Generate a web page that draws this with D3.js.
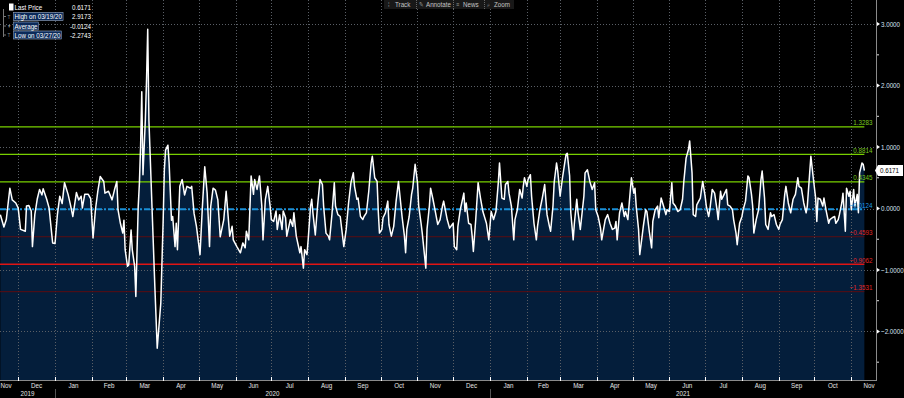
<!DOCTYPE html>
<html><head><meta charset="utf-8">
<script src="https://cdn.jsdelivr.net/npm/d3@7"></script>
<style>
html,body{margin:0;padding:0;background:#000;overflow:hidden}
svg{display:block}
text{font-family:"Liberation Sans Narrow","Arial Narrow","Liberation Sans",Arial,sans-serif}
</style></head><body>
<svg id="c" width="904" height="398"></svg>
<script>
// ---------------- data ----------------
const lastPrice = [
["2019-11-16",-0.10],["2019-11-19",-0.30],["2019-11-21",-0.18],["2019-11-24",0.33],["2019-11-26",0.14],["2019-11-29",0.09],
["2019-12-01",0.01],["2019-12-03",-0.34],["2019-12-07",-0.37],["2019-12-08",0.04],["2019-12-10",0.05],["2019-12-12",-0.04],
["2019-12-13",-0.62],["2019-12-15",-0.10],["2019-12-17",0.15],["2019-12-19",0.31],["2019-12-21",0.22],["2019-12-22",0.32],
["2019-12-25",0.15],["2019-12-27",0.01],["2019-12-30",-0.56],
["2020-01-01",-0.57],["2020-01-03",-0.10],["2020-01-05",0.20],["2020-01-07",0.08],["2020-01-09",0.42],["2020-01-12",0.23],
["2020-01-14",0.06],["2020-01-16",-0.13],["2020-01-19",0.26],["2020-01-21",0.14],["2020-01-23",0.20],["2020-01-24",0.01],
["2020-01-26",0.23],["2020-01-29",0.23],["2020-01-31",0.16],["2020-02-02",-0.48],["2020-02-04",-0.02],["2020-02-06",0.28],
["2020-02-08",0.52],["2020-02-11",0.44],["2020-02-12",0.25],["2020-02-15",0.28],["2020-02-18",0.14],["2020-02-20",0.30],
["2020-02-22",0.44],["2020-02-23",-0.02],["2020-02-25",-0.24],["2020-02-27",-0.40],["2020-02-28",-0.19],["2020-02-29",-0.67],
["2020-03-02",-0.94],["2020-03-03",-0.92],["2020-03-05",-0.35],["2020-03-06",-0.67],["2020-03-08",-0.94],["2020-03-09",-1.43],
["2020-03-11",0.03],["2020-03-12",0.41],["2020-03-13",1.01],["2020-03-14",1.90],["2020-03-15",0.55],["2020-03-17",1.44],
["2020-03-18",2.09],["2020-03-19",2.9173],["2020-03-20",1.44],["2020-03-21",0.90],["2020-03-23",-0.19],["2020-03-25",-1.27],
["2020-03-27",-2.2743],["2020-03-30",-1.54],["2020-04-01",-0.19],["2020-04-02",0.63],["2020-04-03",0.95],["2020-04-05",1.03],
["2020-04-06",0.74],["2020-04-08",-0.19],["2020-04-09",-0.13],["2020-04-11",-0.62],["2020-04-12",-0.24],["2020-04-13",-0.67],
["2020-04-15",0.36],["2020-04-17",0.47],["2020-04-19",0.22],["2020-04-21",0.36],["2020-04-24",0.33],["2020-04-25",0.36],
["2020-04-27",-0.08],["2020-04-29",-0.29],["2020-05-02",-0.75],["2020-05-04",0.03],["2020-05-06",0.68],["2020-05-08",0.25],
["2020-05-10",-0.62],["2020-05-11",0.03],["2020-05-13",0.33],["2020-05-15",0.30],["2020-05-17",0.14],["2020-05-19",-0.46],
["2020-05-22",-0.18],["2020-05-24",0.28],["2020-05-27",-0.45],["2020-05-29",-0.29],["2020-05-30",-0.51],["2020-06-02",-0.62],
["2020-06-05",-0.72],["2020-06-07",-0.56],["2020-06-09",-0.64],["2020-06-10",-0.37],["2020-06-12",-0.51],["2020-06-14",0.53],
["2020-06-16",0.23],["2020-06-17",0.47],["2020-06-19",0.31],["2020-06-21",0.53],["2020-06-23",0.04],["2020-06-24",-0.51],
["2020-06-26",0.15],["2020-06-28",0.36],["2020-06-30",0.04],["2020-07-01",-0.18],["2020-07-03",-0.21],["2020-07-05",-0.04],
["2020-07-06",-0.34],["2020-07-08",-0.10],["2020-07-10",-0.34],["2020-07-11",-0.04],["2020-07-13",-0.15],["2020-07-14",-0.45],
["2020-07-17",-0.18],["2020-07-19",-0.29],["2020-07-20",-0.07],["2020-07-22",-0.45],["2020-07-25",-0.72],["2020-07-26",-0.62],
["2020-07-28",-0.97],["2020-07-29",-0.67],["2020-07-31",-0.75],["2020-08-01",-0.51],["2020-08-03",0.04],["2020-08-04",0.15],
["2020-08-05",-0.07],["2020-08-07",-0.43],["2020-08-09",0.06],["2020-08-11",0.47],["2020-08-13",0.39],["2020-08-14",0.04],
["2020-08-16",-0.40],["2020-08-18",-0.45],["2020-08-19",-0.51],["2020-08-21",-0.10],["2020-08-23",0.42],["2020-08-24",0.04],
["2020-08-26",-0.10],["2020-08-28",-0.13],["2020-08-31",-0.62],["2020-09-02",-0.34],["2020-09-04",0.09],["2020-09-06",0.42],
["2020-09-08",0.58],["2020-09-09",0.36],["2020-09-11",0.15],["2020-09-12",0.17],["2020-09-14",-0.13],["2020-09-16",-0.18],
["2020-09-17",-0.13],["2020-09-19",-0.07],["2020-09-21",0.28],["2020-09-23",0.74],["2020-09-24",0.85],["2020-09-26",0.50],
["2020-09-28",0.44],["2020-09-29",-0.05],["2020-09-30",-0.40],["2020-10-02",-0.34],["2020-10-03",-0.15],["2020-10-05",-0.07],
["2020-10-07",0.12],["2020-10-08",-0.26],["2020-10-10",-0.45],["2020-10-12",-0.29],["2020-10-14",0.12],["2020-10-16",0.44],
["2020-10-19",-0.13],["2020-10-21",-0.45],["2020-10-22",-0.72],["2020-10-23",-0.34],["2020-10-25",-0.13],["2020-10-27",0.23],
["2020-10-28",0.33],["2020-10-30",0.72],["2020-11-01",0.42],["2020-11-02",0.04],["2020-11-04",-0.24],["2020-11-05",-0.40],
["2020-11-08",-0.97],["2020-11-09",-0.34],["2020-11-11",0.04],["2020-11-12",0.33],["2020-11-14",0.15],["2020-11-16",-0.05],
["2020-11-18",-0.26],["2020-11-20",-0.18],["2020-11-22",0.04],["2020-11-23",0.12],["2020-11-26",-0.18],["2020-11-28",-0.32],
["2020-12-01",-0.24],["2020-12-02",-0.62],["2020-12-04",-0.67],["2020-12-05",-0.29],["2020-12-07",-0.02],["2020-12-10",0.25],
["2020-12-11",-0.05],["2020-12-12",0.09],["2020-12-14",-0.24],["2020-12-16",-0.26],["2020-12-17",-0.45],["2020-12-18",-0.70],
["2020-12-20",-0.18],["2020-12-22",0.42],["2020-12-24",0.17],["2020-12-26",-0.05],["2020-12-29",-0.24],["2020-12-31",-0.51],
["2021-01-02",-0.05],["2021-01-04",-0.18],["2021-01-06",-0.05],["2021-01-08",0.42],["2021-01-09",0.74],["2021-01-11",0.17],
["2021-01-13",0.15],["2021-01-14",0.39],["2021-01-16",0.44],["2021-01-17",0.25],["2021-01-19",0.04],["2021-01-21",-0.51],
["2021-01-22",-0.18],["2021-01-24",-0.02],["2021-01-26",0.31],["2021-01-28",0.17],["2021-01-29",0.36],["2021-01-30",0.50],
["2021-02-01",0.36],["2021-02-02",0.47],["2021-02-04",0.55],["2021-02-05",0.20],["2021-02-07",-0.24],["2021-02-09",-0.51],
["2021-02-10",-0.29],["2021-02-12",-0.02],["2021-02-14",0.17],["2021-02-16",0.39],["2021-02-18",-0.10],["2021-02-20",-0.29],
["2021-02-21",-0.37],["2021-02-23",0.04],["2021-02-24",0.42],["2021-02-26",0.74],["2021-02-27",0.61],["2021-03-01",0.20],
["2021-03-03",0.50],["2021-03-04",0.63],["2021-03-06",0.88],["2021-03-07",0.90],["2021-03-09",0.53],["2021-03-10",-0.07],
["2021-03-12",-0.51],["2021-03-13",-0.24],["2021-03-15",0.15],["2021-03-16",-0.05],["2021-03-18",-0.34],["2021-03-21",0.20],
["2021-03-22",0.58],["2021-03-24",0.63],["2021-03-26",0.44],["2021-03-28",0.31],["2021-03-30",0.42],["2021-03-31",-0.02],
["2021-04-02",-0.13],["2021-04-04",-0.32],["2021-04-05",-0.51],["2021-04-06",-0.40],["2021-04-08",-0.18],["2021-04-10",-0.10],
["2021-04-12",-0.24],["2021-04-14",-0.34],["2021-04-16",-0.32],["2021-04-17",-0.21],["2021-04-18",-0.51],["2021-04-20",-0.07],
["2021-04-22",0.09],["2021-04-24",-0.13],["2021-04-25",-0.05],["2021-04-27",-0.18],["2021-04-29",0.28],["2021-04-30",0.50],
["2021-05-02",0.25],["2021-05-03",0.33],["2021-05-04",0.04],["2021-05-06",-0.34],["2021-05-07",-0.75],["2021-05-09",-0.45],
["2021-05-10",-0.29],["2021-05-12",-0.02],["2021-05-13",-0.05],["2021-05-15",-0.37],["2021-05-17",-0.64],["2021-05-18",-0.21],
["2021-05-20",-0.02],["2021-05-22",0.04],["2021-05-23",-0.15],["2021-05-25",0.17],["2021-05-27",0.04],["2021-05-29",-0.10],
["2021-05-30",-0.02],["2021-06-01",-0.05],["2021-06-03",0.42],["2021-06-04",0.09],["2021-06-06",0.04],["2021-06-08",-0.05],
["2021-06-10",-0.02],["2021-06-12",0.15],["2021-06-13",0.42],["2021-06-15",0.82],["2021-06-17",0.96],["2021-06-18",1.10],
["2021-06-20",0.58],["2021-06-21",-0.10],["2021-06-23",-0.13],["2021-06-24",0.06],["2021-06-27",0.17],["2021-06-28",0.31],
["2021-06-29",0.44],["2021-07-01",0.20],["2021-07-02",0.04],["2021-07-04",-0.13],["2021-07-05",-0.02],["2021-07-07",0.31],
["2021-07-09",0.25],["2021-07-11",-0.02],["2021-07-12",-0.18],["2021-07-14",0.28],["2021-07-15",0.15],["2021-07-17",0.23],
["2021-07-19",0.31],["2021-07-20",0.06],["2021-07-22",0.04],["2021-07-24",-0.02],["2021-07-25",-0.18],["2021-07-27",-0.40],
["2021-07-28",-0.59],["2021-07-30",-0.24],["2021-08-01",-0.13],["2021-08-02",-0.02],["2021-08-04",0.12],["2021-08-06",0.53],
["2021-08-07",0.50],["2021-08-09",0.23],["2021-08-10",0.04],["2021-08-11",-0.40],["2021-08-13",-0.18],["2021-08-15",-0.02],
["2021-08-17",0.47],["2021-08-18",0.61],["2021-08-20",0.17],["2021-08-21",-0.26],["2021-08-23",-0.34],["2021-08-25",-0.07],
["2021-08-26",-0.13],["2021-08-28",-0.10],["2021-08-30",-0.26],["2021-09-01",-0.34],["2021-09-02",-0.26],["2021-09-04",-0.18],
["2021-09-06",0.23],["2021-09-07",0.36],["2021-09-09",0.09],["2021-09-11",-0.07],["2021-09-13",0.15],["2021-09-15",0.23],
["2021-09-17",0.50],["2021-09-18",0.36],["2021-09-20",0.33],["2021-09-22",0.09],["2021-09-24",-0.07],["2021-09-25",0.04],
["2021-09-27",0.58],["2021-09-28",0.85],["2021-09-30",0.50],["2021-10-02",0.17],["2021-10-03",-0.21],["2021-10-04",0.17],
["2021-10-06",0.15],["2021-10-08",0.04],["2021-10-09",0.17],["2021-10-11",-0.05],["2021-10-13",-0.24],["2021-10-14",-0.18],
["2021-10-16",-0.15],["2021-10-18",-0.13],["2021-10-19",-0.24],["2021-10-21",-0.18],["2021-10-22",-0.10],["2021-10-24",0.09],
["2021-10-25",0.25],["2021-10-27",-0.37],["2021-10-28",0.33],["2021-10-30",0.20],["2021-10-31",0.28],["2021-11-01",-0.02],
["2021-11-03",0.31],["2021-11-04",0.04],["2021-11-06",0.23],["2021-11-07",-0.07],["2021-11-08",0.58],["2021-11-10",0.74],
["2021-11-11",0.72],["2021-11-12",0.6171]
];
const bandValues = [1.3283, 0.8814, 0.4345, -0.0124, -0.4593, -0.9062, -1.3531];
const bandKinds  = ["up3","up2","up1","mean","dn1","dn2","dn3"];
const yTickValues = [3, 2, 1, 0, -1, -2];
const legendLabels = ["Last Price", "High on 03/19/20", "Average", "Low on 03/27/20"];
const legendValues = ["0.6171", "2.9173", "-0.0124", "-2.2743"];
const toolbarItems = ["Track", "Annotate", "News", "Zoom"];
const lastValueLabel = "0.6171";

// ---------------- layout ----------------
const W = 904, H = 398;
const plotRight = 876, plotBottom = 380;
const K = 0.78; // horizontal condensing of the narrow terminal font
const svg = d3.select("#c");
const parse = d3.utcParse("%Y-%m-%d");
const data = lastPrice.map(([d, v]) => ({date: parse(d), value: v}));

const x = d3.scaleUtc()
  .domain([new Date(Date.UTC(2019, 10, 15, 17)), new Date(Date.UTC(2021, 10, 21, 19))])
  .range([0, plotRight]);
const y = d3.scaleLinear().domain([-2.79, 3.392]).range([plotBottom, 0]);

// condensed text helper
function ctext(parent, tx, ty, str, o = {}) {
  const g = parent.append("g").attr("transform", `translate(${tx},${ty}) scale(${K},1)`);
  const t = g.append("text").attr("dy", "0.35em")
    .attr("font-size", o.size || 8)
    .attr("fill", o.fill || "#fff")
    .attr("text-anchor", o.anchor || "start")
    .text(str);
  return t;
}

svg.append("rect").attr("width", W).attr("height", H).attr("fill", "#000");

svg.append("clipPath").attr("id", "pc").append("rect")
  .attr("x", 0).attr("y", 0).attr("width", plotRight).attr("height", plotBottom);
const plot = svg.append("g").attr("clip-path", "url(#pc)");

// area under line
plot.append("path").datum(data)
  .attr("fill", "#041e3b")
  .attr("d", d3.area().x(d => x(d.date)).y0(plotBottom).y1(d => y(d.value)));

// grid
const months = d3.utcMonth.range(x.domain()[0], x.domain()[1]);
plot.append("g").selectAll("line").data(months).join("line")
  .attr("x1", d => Math.round(x(d)) + 0.5).attr("x2", d => Math.round(x(d)) + 0.5)
  .attr("y1", 0).attr("y2", plotBottom)
  .attr("stroke", "#5a5f66").attr("stroke-width", 1).attr("stroke-dasharray", "1,2");
plot.append("g").selectAll("line").data(yTickValues).join("line")
  .attr("x1", 0).attr("x2", plotRight)
  .attr("y1", d => Math.round(y(d)) + 0.5).attr("y2", d => Math.round(y(d)) + 0.5)
  .attr("stroke", "#5a5f66").attr("stroke-width", 1).attr("stroke-dasharray", "1,2");

// bands
const bandStyle = {
  up3: {c: "#78d000", w: 1.2, lab: "#78c81e"},
  up2: {c: "#78d000", w: 1.2, lab: "#78c81e"},
  up1: {c: "#78d000", w: 1.2, lab: "#78c81e"},
  mean: {c: "#1a90d8", w: 2, dash: "6,2,2,2", lab: "#1e9ae6"},
  dn1: {c: "#5c0c10", w: 1, lab: "#e02828"},
  dn2: {c: "#e01414", w: 1.5, lab: "#e02828"},
  dn3: {c: "#5c0c10", w: 1, lab: "#e02828"}
};
const xEnd = x(data[data.length - 1].date);
const bands = bandValues.map((v, i) => ({v, k: bandKinds[i]}));
plot.append("g").selectAll("line").data(bands).join("line")
  .attr("x1", 0).attr("x2", xEnd)
  .attr("y1", d => y(d.v)).attr("y2", d => y(d.v))
  .attr("stroke", d => bandStyle[d.k].c)
  .attr("stroke-width", d => bandStyle[d.k].w)
  .attr("stroke-dasharray", d => bandStyle[d.k].dash || null);

// price line
plot.append("path").datum(data)
  .attr("fill", "none").attr("stroke", "#fff").attr("stroke-width", 1.5)
  .attr("stroke-linejoin", "round")
  .attr("d", d3.line().x(d => x(d.date)).y(d => y(d.value)));

// band labels
const bandLab = svg.append("g");
bands.forEach(b => ctext(bandLab, xEnd + 8, y(b.v) - 4.5, d3.format(".4f")(b.v),
  {anchor: "end", fill: bandStyle[b.k].lab}));

// right axis
svg.append("line").attr("x1", plotRight + 0.5).attr("x2", plotRight + 0.5)
  .attr("y1", 0).attr("y2", plotBottom + 1).attr("stroke", "#8a8a8a");
const minor = d3.range(-2.5, 3.5, 1);
svg.append("g").selectAll("line").data(minor).join("line")
  .attr("x1", plotRight + 1).attr("x2", plotRight + 3)
  .attr("y1", d => y(d)).attr("y2", d => y(d)).attr("stroke", "#ddd");
const yAxisG = svg.append("g");
yTickValues.forEach(v => {
  yAxisG.append("path").attr("transform", `translate(${plotRight},${y(v)})`)
    .attr("d", "M1,-2L4,0L1,2Z").attr("fill", "#fff");
  ctext(yAxisG, plotRight + 5, y(v), d3.format(".4f")(v), {fill: "#d6e2f2"});
});

// last price tag
const ly = y(data[data.length - 1].value);
svg.append("path")
  .attr("d", `M${plotRight - 1},${ly} L${plotRight + 2},${ly - 5.5} L${W - 1},${ly - 5.5} L${W - 1},${ly + 5.5} L${plotRight + 2},${ly + 5.5} Z`)
  .attr("fill", "#fff");
ctext(svg, plotRight + 4, ly, lastValueLabel, {fill: "#000"});

// bottom axis
svg.append("line").attr("x1", 0).attr("x2", plotRight).attr("y1", plotBottom + 0.5).attr("y2", plotBottom + 0.5)
  .attr("stroke", "#8a8a8a");
svg.append("g").selectAll("line").data(months).join("line")
  .attr("x1", d => Math.round(x(d)) + 0.5).attr("x2", d => Math.round(x(d)) + 0.5)
  .attr("y1", plotBottom - 3).attr("y2", plotBottom + 1).attr("stroke", "#fff");
const monthStarts = d3.utcMonth.range(d3.utcMonth.floor(x.domain()[0]), x.domain()[1]);
const xLab = svg.append("g");
monthStarts.forEach(d => {
  const c = (x(d) + x(d3.utcMonth.offset(d, 1))) / 2;
  ctext(xLab, Math.min(Math.max(c, 6), plotRight - 6), 385, d3.utcFormat("%b")(d),
    {anchor: "middle", fill: "#e6e6e6"});
});
const years = d3.utcYear.range(d3.utcYear.floor(x.domain()[0]), x.domain()[1]);
years.forEach(d => {
  const c = (Math.max(0, x(d)) + Math.min(plotRight, x(d3.utcYear.offset(d, 1)))) / 2;
  ctext(xLab, c, 393.5, d3.utcFormat("%Y")(d), {anchor: "middle", fill: "#e6e6e6"});
});
svg.append("g").selectAll("line").data(years.filter(d => x(d) > 0)).join("line")
  .attr("x1", d => Math.round(x(d)) + 0.5).attr("x2", d => Math.round(x(d)) + 0.5)
  .attr("y1", 389).attr("y2", H).attr("stroke", "#555");

// toolbar
const tb = svg.append("g");
tb.append("rect").attr("x", 384).attr("y", 0).attr("width", 130).attr("height", 9).attr("fill", "#181818");
const tbX = [388, 419, 456, 487];
const tbIcons = ["\u205E", "\u270E", "\u2261", "\u2315"];
toolbarItems.forEach((t, i) => {
  ctext(tb, tbX[i], 4.5, tbIcons[i], {size: 7, fill: "#9a9a9a"});
  ctext(tb, tbX[i] + 7, 4.5, t, {size: 8, fill: "#c4c4c4"});
  if (i > 0) tb.append("line").attr("x1", tbX[i] - 2.5).attr("x2", tbX[i] - 2.5).attr("y1", 0).attr("y2", 9)
    .attr("stroke", "#666").attr("stroke-dasharray", "1,1");
});

// legend
const lg = svg.append("g");
const rowY = [7, 16.5, 26, 35];
lg.append("line").attr("x1", 3.5).attr("x2", 3.5).attr("y1", 9).attr("y2", 37).attr("stroke", "#777");
rowY.forEach((ry, i) => {
  if (i === 0) {
    lg.append("rect").attr("x", 9).attr("y", ry - 3.5).attr("width", 4.5).attr("height", 7).attr("fill", "#fff");
  } else {
    lg.append("line").attr("x1", 3.5).attr("x2", 6).attr("y1", ry).attr("y2", ry).attr("stroke", "#777");
    ctext(lg, 7.5, ry, i === 2 ? "\u25BE" : "T", {size: 6, fill: "#888"});
  }
  const t = ctext(lg, 14.5, ry, legendLabels[i], {size: 8, fill: "#fff"});
  if (i > 0) {
    const bb = t.node().getBBox();
    d3.select(t.node().parentNode).insert("rect", "text")
      .attr("x", bb.x - 1.5).attr("y", -4).attr("width", bb.width + 3).attr("height", 8)
      .attr("fill", "#0b2a5a").attr("stroke", "#9fb0c8").attr("stroke-width", 0.6);
  }
  ctext(lg, 91, ry, legendValues[i], {size: 8, anchor: "end", fill: "#fff"});
});
</script>
</body></html>
